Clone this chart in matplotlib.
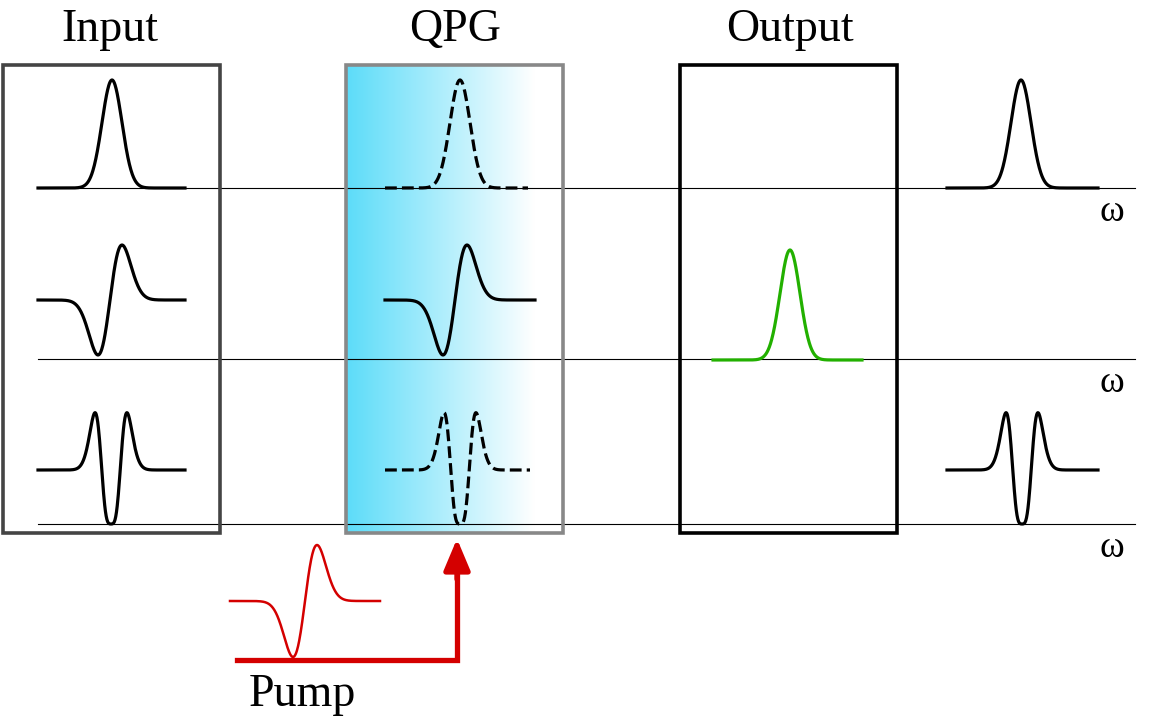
import numpy as np
import matplotlib.pyplot as plt
from matplotlib.colors import LinearSegmentedColormap

# diagram laid out in pixel units (x right, y down)
titles = ["Input", "QPG", "Output"]
title_x = [110, 455, 790]
box_left = [3, 346, 680]
box_colors = ["#444444", "#888888", "#000000"]
box_w, box_top, box_bot = 217, 65, 533
axis_y = [188, 359, 524]

# pulses: (kind, x0, x1, center, baseline, height, color, style)
pulses = [
    ("g", 38, 185, 112, 188, 108, "black", "-"),
    ("h1", 38, 185, 110, 300, 55, "black", "-"),
    ("h2", 38, 185, 111, 470, 54, "black", "-"),
    ("g", 385, 528, 460, 188, 108, "black", "--"),
    ("h1", 385, 535, 455, 300, 55, "black", "-"),
    ("h2", 385, 530, 460, 470, 54, "black", "--"),
    ("g", 713, 862, 790, 360, 110, "#22b000", "-"),
    ("g", 947, 1098, 1021, 188, 108, "black", "-"),
    ("h2", 947, 1098, 1022, 470, 54, "black", "-"),
    ("h1", 230, 380, 305, 601, 56, "#d40000", "-"),
]


def shape(kind, u):
    if kind == "g":
        s = 10.0
        return np.exp(-u**2 / (2 * s**2))
    if kind == "h1":
        s = 12.0
        return (u / s) * np.exp(-u**2 / (2 * s**2)) / np.exp(-0.5)
    s = 9.2
    f = (u**2 / s**2 - 1) * np.exp(-u**2 / (2 * s**2))
    g = f + 0.488 * f**2
    return g / 0.512


fig = plt.figure(figsize=(11.49, 7.25), dpi=100)
ax = fig.add_axes([0, 0, 1, 1])
ax.set_xlim(0, 1149)
ax.set_ylim(725, 0)
ax.axis("off")

serif = ["Liberation Serif", "DejaVu Serif"]

# gradient fill of the QPG box
cmap = LinearSegmentedColormap.from_list("qpg", ["#5cdcf9", "#ffffff"])
grad = np.linspace(0, 1, 256)[None, :]
ax.imshow(grad, cmap=cmap, extent=[346, 535, box_bot, box_top], aspect="auto", zorder=0)

for y in axis_y:
    ax.plot([38, 1135], [y, y], color="black", lw=0.8, zorder=1)
    ax.text(1112, y + 24, "ω", fontsize=27, family=serif, ha="center", va="center")

for t, x, bl, c in zip(titles, title_x, box_left, box_colors):
    ax.text(x, 30, t, fontsize=33, family=serif, ha="center", va="center")
    ax.add_patch(plt.Rectangle((bl, box_top), box_w, box_bot - box_top, fill=False,
                               ec=c, lw=2.6, zorder=3))

for kind, x0, x1, xc, base, h, col, ls in pulses:
    xs = np.linspace(x0, x1, 400)
    y = base - shape(kind, xs - xc) * h
    ax.plot(xs, y, color=col, lw=2.3 if col != "#d40000" else 1.8, ls=ls, zorder=4)

# pump arrow
ax.plot([237, 457, 457], [660, 660, 575], color="#d40000", lw=3.8, solid_joinstyle="miter", zorder=5)
ax.annotate("", xy=(457, 536), xytext=(457, 582),
            arrowprops=dict(arrowstyle="-|>,head_length=1.9,head_width=0.8", color="#d40000", lw=3.8))
ax.text(302, 695, "Pump", fontsize=33, family=serif, ha="center", va="center")

fig.savefig("out.png", dpi=100)
